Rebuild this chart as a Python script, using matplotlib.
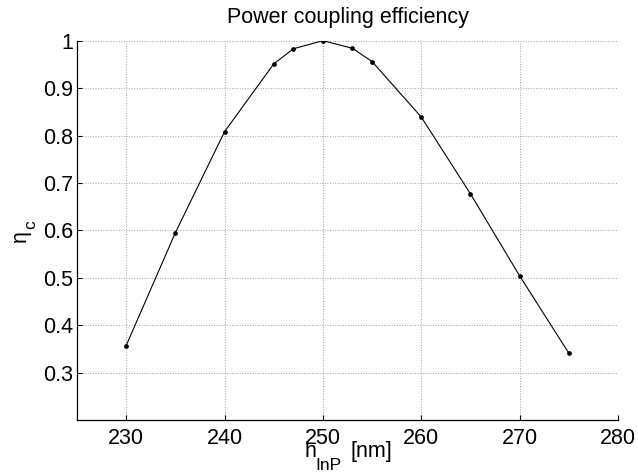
import matplotlib
matplotlib.use('Agg')
import matplotlib.pyplot as plt

plt.rcParams['font.family'] = ['Liberation Sans', 'DejaVu Sans']

# measured coupling efficiency vs InP thickness
h_inp = [230, 235, 240, 245, 247, 250, 253, 255, 260, 265, 270, 275]
eta_c = [0.357, 0.595, 0.808, 0.951, 0.983, 1.000, 0.984, 0.956, 0.839, 0.677, 0.504, 0.341]

xticks = [230, 240, 250, 260, 270, 280]
yticks = [0.3, 0.4, 0.5, 0.6, 0.7, 0.8, 0.9, 1.0]
yticklabels = ['0.3', '0.4', '0.5', '0.6', '0.7', '0.8', '0.9', '1']

W, H = 638, 474
fig = plt.figure(figsize=(W / 100, H / 100), dpi=100)
ax = fig.add_axes([77 / W, 1 - 420 / H, 541 / W, 379.3 / H])

ax.plot(h_inp, eta_c, '-', color='black', lw=0.8, marker='o', ms=2.4)

ax.set_xlim(225, 280)
ax.set_ylim(0.2, 1.0)
ax.set_xticks(xticks)
ax.set_yticks(yticks)
ax.set_yticklabels(yticklabels)

ax.grid(True, ls=':', color='#a0a0a0', lw=0.7)
ax.set_axisbelow(True)
for s in ['top', 'right']:
    ax.spines[s].set_visible(False)
for s in ['left', 'bottom']:
    ax.spines[s].set_linewidth(0.9)
ax.tick_params(direction='in', length=3.6, width=0.8, labelsize=15.5)
ax.tick_params(axis='x', pad=5.5)
ax.tick_params(axis='y', pad=3)

ax.set_title('Power coupling efficiency', fontsize=15.5, pad=12.7)


def px(x, y):
    return x / W, 1 - y / H


# x label: h_InP [nm], MATLAB-style subscript (barely shrunk)
fig.text(*px(304, 457), 'h', fontsize=15.5, va='baseline', ha='left')
fig.text(*px(315.5, 470), 'InP', fontsize=12.5, va='baseline', ha='left')
fig.text(*px(350, 457), '[nm]', fontsize=15.5, va='baseline', ha='left')

# y label: eta_c, rotated
fig.text(*px(26, 242), '\u03b7', fontsize=15.5, rotation=90,
         rotation_mode='anchor', va='baseline', ha='left')
fig.text(*px(35, 229), 'c', fontsize=12.5, rotation=90,
         rotation_mode='anchor', va='baseline', ha='left')

fig.savefig('out.png', dpi=100)
